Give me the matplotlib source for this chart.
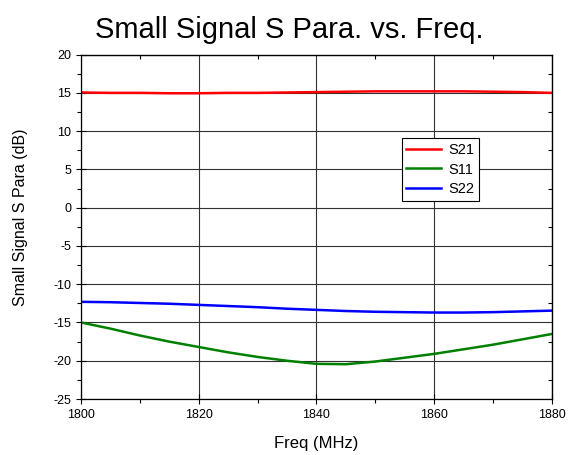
import matplotlib
matplotlib.use('Agg')
import matplotlib.pyplot as plt
from matplotlib.ticker import MultipleLocator

plt.rcParams['font.family'] = ['Liberation Sans', 'DejaVu Sans']
plt.rcParams['axes.unicode_minus'] = False

# frequency sweep (MHz) and measured S-parameters (dB)
freq = [1800, 1805, 1810, 1815, 1820, 1825, 1830, 1835, 1840, 1845,
        1850, 1855, 1860, 1865, 1870, 1875, 1880]
s21 = [15.05, 15.0, 15.0, 14.95, 14.95, 15.0, 15.0, 15.05, 15.1, 15.15,
       15.2, 15.2, 15.2, 15.2, 15.15, 15.1, 15.0]
s11 = [-15.0, -15.8, -16.7, -17.5, -18.2, -18.9, -19.5, -20.0, -20.4, -20.45,
       -20.1, -19.6, -19.1, -18.5, -17.9, -17.2, -16.5]
s22 = [-12.3, -12.35, -12.45, -12.55, -12.7, -12.85, -13.0, -13.2, -13.35, -13.5,
       -13.6, -13.65, -13.7, -13.7, -13.65, -13.55, -13.45]

fig = plt.figure(figsize=(5.68, 4.55), dpi=100)
ax = fig.add_axes([0.1426, 0.123, 0.829, 0.757])

ax.plot(freq, s21, color='#ff0000', lw=1.8, label='S21')
ax.plot(freq, s11, color='#008000', lw=1.8, label='S11')
ax.plot(freq, s22, color='#0000ff', lw=1.8, label='S22')

ax.set_xlim(1800, 1880)
ax.set_ylim(-25, 20)
ax.xaxis.set_major_locator(MultipleLocator(20))
ax.xaxis.set_minor_locator(MultipleLocator(10))
ax.yaxis.set_major_locator(MultipleLocator(5))
ax.yaxis.set_minor_locator(MultipleLocator(2.5))
ax.grid(True, which='major', color='#333333', lw=0.8)
ax.set_axisbelow(True)

# crossing major ticks, outward minor ticks on left/bottom
ax.tick_params(which='both', labelsize=9, width=0.8)
ax.tick_params(which='major', direction='inout', length=7)
ax.tick_params(which='minor', direction='out', length=3)
# small inward minor ticks on top/right
ax2 = ax.secondary_xaxis('top')
ax2.xaxis.set_major_locator(MultipleLocator(20))
ax2.xaxis.set_minor_locator(MultipleLocator(10))
ax2.tick_params(which='both', direction='in', labeltop=False, width=0.8)
ax2.tick_params(which='major', length=0)
ax2.tick_params(which='minor', length=3)
ax3 = ax.secondary_yaxis('right')
ax3.yaxis.set_major_locator(MultipleLocator(5))
ax3.yaxis.set_minor_locator(MultipleLocator(2.5))
ax3.tick_params(which='both', direction='in', labelright=False, width=0.8)
ax3.tick_params(which='major', length=0)
ax3.tick_params(which='minor', length=3)
for s in ax.spines.values():
    s.set_linewidth(0.9)

ax.set_xlabel('Freq (MHz)', fontsize=12, labelpad=11)
ax.set_ylabel('Small Signal S Para (dB)', fontsize=11.5)
ax.yaxis.set_label_coords(-0.113, 0.528)
fig.text(0.509, 0.933, 'Small Signal S Para. vs. Freq.', fontsize=21,
         ha='center', va='center')

leg = ax.legend(loc='upper left', bbox_to_anchor=(0.681, 0.757), fontsize=10.5,
                frameon=True, fancybox=False, borderpad=0.3, labelspacing=0.4,
                handlelength=2.4, handletextpad=0.5, borderaxespad=0)
leg.get_frame().set_edgecolor('black')
leg.get_frame().set_linewidth(0.8)
leg.get_frame().set_alpha(1)

fig.savefig('out.png', dpi=100)
